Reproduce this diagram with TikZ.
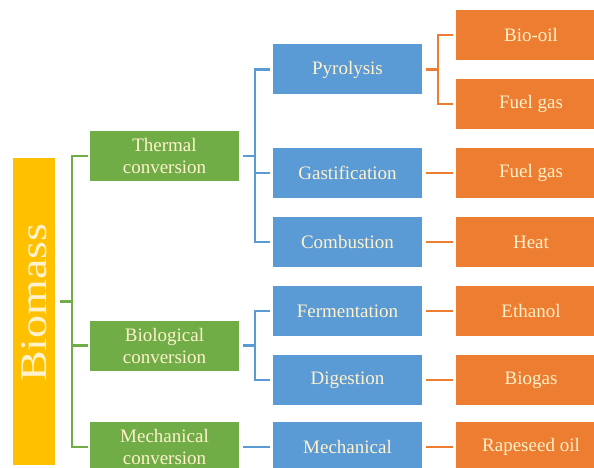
\documentclass[tikz,border=0pt]{standalone}
\usepackage{graphicx}
\usepackage{fontspec}
\setmainfont{Liberation Serif}
\usetikzlibrary{calc}
\definecolor{bmyellow}{HTML}{FFC000}
\definecolor{convgreen}{HTML}{70AD47}
\definecolor{procblue}{HTML}{5B9BD5}
\definecolor{prodorange}{HTML}{ED7D31}
\definecolor{boxtext}{HTML}{FFF2CC}
\tikzset{
    box/.style={
        rectangle, inner sep=0pt, align=center, text=boxtext,
        minimum width=149pt, minimum height=50pt,
        font=\fontsize{19}{22}\selectfont
    },
    convbox/.style={box, fill=convgreen},
    procbox/.style={box, fill=procblue},
    prodbox/.style={box, fill=prodorange, minimum width=150pt},
    link/.style={line width=2.5pt}
}
% parent -> bar -> child
\newcommand{\branch}[3]{%
    \draw[link, #1] ([xshift=4pt]#2.east) -- ++(12,0) |- ([xshift=-3pt]#3.west);
}

\begin{document}
\begin{tikzpicture}[x=1pt, y=-1pt]
	\clip (0,0) rectangle (594,468);
	
	\node[fill=bmyellow, minimum width=42pt, minimum height=307pt, inner sep=0pt,
	      text=boxtext, font=\fontsize{46}{46}\selectfont] (biomass) at (34,311.5)
	      {\rotatebox{90}{\hspace*{18pt}\scalebox{1}[0.82]{Biomass}}};
	
	\node[convbox] (thermal) at (164.5,156) {Thermal\\conversion};
	\node[convbox] (biological) at (164.5,345.5) {Biological\\conversion};
	\node[convbox] (mechconv) at (164.5,447) {Mechanical\\conversion};
	
	\foreach \name/\txt/\y in {pyrolysis/Pyrolysis/69.5, gastif/Gastification/173,
	        combustion/Combustion/242, ferment/Fermentation/311,
	        digestion/Digestion/380, mechanical/Mechanical/447} {
			\node[procbox] (\name) at (347.5,\y) {\txt};
	}
	
	\foreach \name/\txt/\y in {biooil/Bio-oil/35, fuelgasa/Fuel gas/104, fuelgasb/Fuel gas/173,
	        heat/Heat/242, ethanol/Ethanol/311, biogas/Biogas/380, rapeseed/Rapeseed oil/447} {
			\node[prodbox] (\name) at (531,\y) {\txt};
	}
	
	\coordinate (convmid) at ($(thermal.west)!0.5!(mechconv.west)$);
	\coordinate (bioout) at ([xshift=5pt]biomass.east |- convmid);
	\foreach \c in {thermal, biological, mechconv} {
			\draw[link, convgreen] (bioout) -- ++(12,0) |- ([xshift=-2pt]\c.west);
	}
	
	\foreach \c in {pyrolysis, gastif, combustion} {
			\branch{procblue}{thermal}{\c}
	}
	\foreach \c in {ferment, digestion} {
			\branch{procblue}{biological}{\c}
	}
	\branch{procblue}{mechconv}{mechanical}
	
	\foreach \c in {biooil, fuelgasa} {
			\branch{prodorange}{pyrolysis}{\c}
	}
	\branch{prodorange}{gastif}{fuelgasb}
	\branch{prodorange}{combustion}{heat}
	\branch{prodorange}{ferment}{ethanol}
	\branch{prodorange}{digestion}{biogas}
	\branch{prodorange}{mechanical}{rapeseed}
	
\end{tikzpicture}
\end{document}
